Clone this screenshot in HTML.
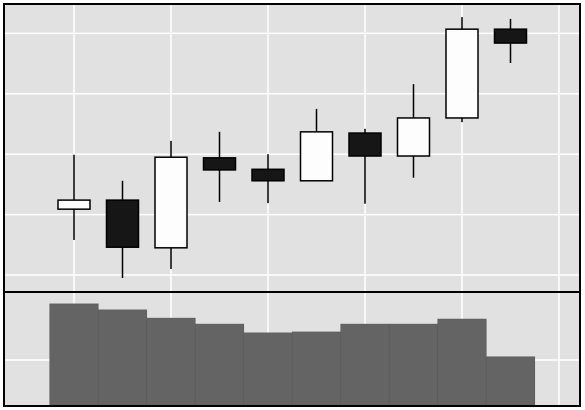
<!DOCTYPE html>
<html><head><meta charset="utf-8"><style>
html,body{margin:0;padding:0;background:#fff;width:585px;height:410px;overflow:hidden}
svg{display:block;font-family:"Liberation Sans",sans-serif}
</style></head><body>
<svg id="chart" width="585" height="410"></svg>
<script>
const categories=[1,2,3,4,5,6,7,8,9,10];
const openVals=[1.09,1.24,0.45,1.94,1.75,1.56,2.35,1.97,2.60,4.07];
const highVals=[1.99,1.56,2.22,2.37,2.00,2.75,2.42,3.16,4.27,4.24];
const lowVals=[0.58,-0.05,0.10,1.21,1.19,1.56,1.18,1.61,2.53,3.51];
const closeVals=[1.24,0.46,1.95,1.74,1.56,2.37,1.97,2.60,4.07,3.84];
const volumeVals=[2.22,2.09,1.91,1.78,1.59,1.61,1.78,1.78,1.89,1.07];
const priceTicks=[0,1,2,3,4];
const volTicks=[1];

const NS="http://www.w3.org/2000/svg";
const svg=document.getElementById('chart');
function mk(t,a,p){const e=document.createElementNS(NS,t);for(const k in a)e.setAttribute(k,a[k]);(p||svg).appendChild(e);return e;}
const L=4,R=580,T=4,MID=292,B=406;
const x=i=>74+i*48.5;
const yP=v=>275-v*60.4;
const yV=v=>406-v*46;

const up=mk('rect',{x:L,y:T,width:R-L,height:MID-T,fill:'#e1e1e1'});


const lo=mk('rect',{x:L,y:MID,width:R-L,height:B-MID,fill:'#e1e1e1'});



for(let k=0;k<6;k++){const gx=74+k*97;
  const g=mk('line',{x1:gx,x2:gx,y1:T,y2:B,stroke:'#fff','stroke-width':1.5});
  
  }
priceTicks.forEach(v=>{const g=mk('line',{x1:L,x2:R,y1:yP(v),y2:yP(v),stroke:'#fff','stroke-width':1.5});
  
  });
volTicks.forEach(v=>{const g=mk('line',{x1:L,x2:R,y1:yV(v),y2:yV(v),stroke:'#fff','stroke-width':1.5});
  
  });

volumeVals.forEach((v,i)=>{const r=mk('rect',{x:x(i)-24.25,y:yV(v),width:48.5,height:yV(0)-yV(v),fill:'#646464',stroke:'#5a5a5a','stroke-width':0.6});
  
  });

categories.forEach((c,i)=>{
  const cx=x(i);
  const w=mk('line',{x1:cx,x2:cx,y1:yP(highVals[i]),y2:yP(lowVals[i]),stroke:'#000','stroke-width':1.5});
  
  
  const o=openVals[i],cl=closeVals[i];
  const top=yP(Math.max(o,cl)),bot=yP(Math.min(o,cl));
  const b=mk('rect',{x:cx-16,y:top,width:32,height:Math.max(bot-top,1),fill:cl>=o?'#fdfdfd':'#161616',stroke:'#000','stroke-width':1.5});
  
  
});

const f1=mk('rect',{x:L,y:T,width:R-L,height:MID-T,fill:'none',stroke:'#000','stroke-width':2});


const f2=mk('rect',{x:L,y:MID,width:R-L,height:B-MID,fill:'none',stroke:'#000','stroke-width':2});


</script>
</body></html>
